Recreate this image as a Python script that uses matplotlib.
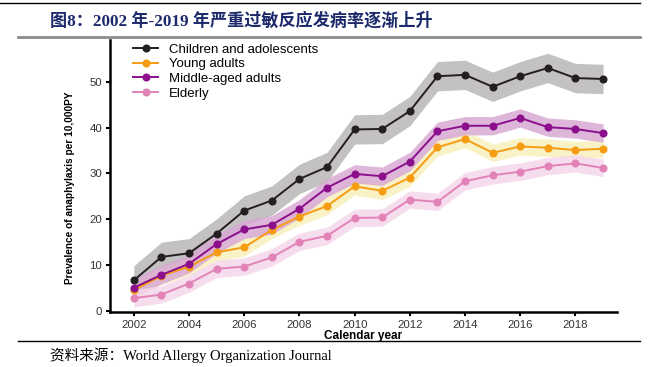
"""Prevalence of severe anaphylaxis by age group, 2002-2019."""

import matplotlib.pyplot as plt
from matplotlib.lines import Line2D

plt.rcParams["font.family"] = ["Liberation Sans", "DejaVu Sans"]

YEARS = list(range(2002, 2020))

CHILDREN = [6.7, 11.8, 12.6, 16.9, 21.9, 24.1, 28.8, 31.4, 39.6, 39.7,
            43.6, 51.2, 51.5, 48.9, 51.2, 53.0, 50.8, 50.6]
YOUNG = [4.6, 7.7, 9.7, 12.8, 13.9, 17.7, 20.6, 22.9, 27.2, 26.2,
         29.1, 35.7, 37.5, 34.5, 35.9, 35.6, 35.1, 35.4]
MIDDLE = [5.1, 7.9, 10.3, 14.6, 17.8, 18.8, 22.3, 26.9, 29.9, 29.4,
          32.6, 39.2, 40.4, 40.4, 42.1, 40.1, 39.7, 38.8]
ELDERLY = [2.8, 3.6, 6.0, 9.2, 9.7, 11.7, 15.1, 16.4, 20.3, 20.4,
           24.3, 23.8, 28.3, 29.6, 30.4, 31.6, 32.2, 31.2]

# half-width of the confidence band for each group
CHILDREN_CI = 3.2
YOUNG_CI = 1.9
MIDDLE_CI = 2.0
ELDERLY_CI = 1.9

LABELS = ["Children and adolescents", "Young adults", "Middle-aged adults", "Elderly"]

TITLE = "图8：2002 年-2019 年严重过敏反应发病率逐渐上升"
SOURCE = "资料来源：World Allergy Organization Journal"

SERIES = [
    (CHILDREN, CHILDREN_CI, "#231f20", "#b9b7b7"),
    (YOUNG, YOUNG_CI, "#f59c12", "#f8f0bd"),
    (MIDDLE, MIDDLE_CI, "#8c0f8c", "#d8a9d3"),
    (ELDERLY, ELDERLY_CI, "#e283b8", "#f5d8ea"),
]

fig = plt.figure(figsize=(6.5, 3.67), dpi=100)
ax = fig.add_axes([0.169, 0.150, 0.780, 0.741])

# bands first so lines sit on top
for values, ci, line_color, band_color in SERIES:
    lo = [v - ci for v in values]
    hi = [v + ci for v in values]
    ax.fill_between(YEARS, lo, hi, color=band_color, alpha=0.85, lw=0)
for values, ci, line_color, band_color in SERIES:
    ax.plot(YEARS, values, color=line_color, lw=1.4, marker="o", ms=4.8)

ax.set_xlim(2001.13, 2019.5)
ax.set_ylim(-0.2, 59.1)
ax.set_xticks(range(2002, 2019, 2))
ax.set_yticks(range(0, 51, 10))
ax.tick_params(labelsize=8.2, labelcolor="#333333", width=1.5, length=3, pad=2.5)
for side in ("top", "right"):
    ax.spines[side].set_visible(False)
for side in ("left", "bottom"):
    ax.spines[side].set_linewidth(1.8)
ax.set_xlabel("Calendar year", fontsize=8.5, fontweight="bold")
ax.xaxis.set_label_coords(0.5, -0.066)
ax.set_ylabel("Prevalence of anaphylaxis per 10,000PY", fontsize=7.3,
              fontweight="bold")
ax.yaxis.set_label_coords(-0.069, 0.456)

handles = [Line2D([], [], color=c, lw=1.4, marker="o", ms=4.8) for _, _, c, _ in SERIES]
ax.legend(handles, LABELS, loc="upper left", bbox_to_anchor=(0.036, 1.006),
          frameon=False, fontsize=9.5, handlelength=1.9, labelspacing=0.18,
          handletextpad=0.8, borderaxespad=0)

# report frame: rules, title and source line
fig.add_artist(Line2D([0.0, 0.985], [0.992, 0.992], color="black", lw=1.0))
fig.add_artist(Line2D([0.028, 0.985], [0.899, 0.899], color="#8c8c8c", lw=2.0))
fig.add_artist(Line2D([0.028, 0.985], [0.071, 0.071], color="black", lw=1.0))
fig.text(0.077, 0.943, TITLE, fontsize=12.3, fontweight="bold", color="#1c2a6b",
         family=["Liberation Serif", "Noto Sans CJK SC"], va="center")
fig.text(0.077, 0.033, SOURCE, fontsize=10.5, color="black",
         family=["Liberation Serif", "Noto Sans CJK SC"], va="center")

fig.savefig("out.png", dpi=100)
